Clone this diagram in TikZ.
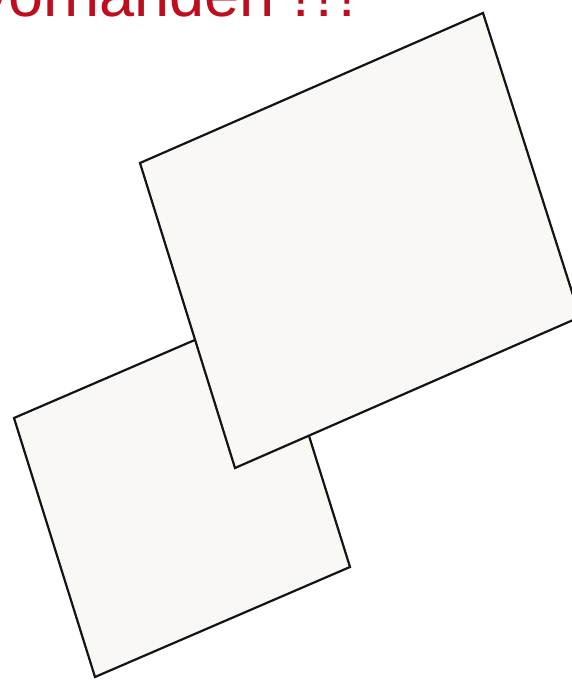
\documentclass[tikz,border=0pt]{standalone}
\usepackage{fontspec}
\setmainfont{Liberation Sans}
\definecolor{titlered}{RGB}{188,14,30}
\definecolor{sheetfill}{RGB}{250,248,245}
\tikzset{
  sheet/.style={draw=black!92, line width=2.2pt, fill=sheetfill, line join=miter},
  titletext/.style={text=titlered, inner sep=0pt, anchor=base west, font=\fontsize{63}{63}\selectfont}
}
\begin{document}
\begin{tikzpicture}[x=1pt,y=1pt]
\useasboundingbox (0,0) rectangle (572,680);
\clip (0,0) rectangle (572,680);
\fill[white] (0,0) rectangle (572,680);
\node[titletext] (title) at (-23,663) {vorhanden !\kern5.5pt!\kern5.5pt!};
% lower sheet
\coordinate (s1) at (14,262);
\coordinate (s2) at (269,372);
\coordinate (s3) at (350,113);
\coordinate (s4) at (95,3);
\draw[sheet] (s1) -- (s2) -- (s3) -- (s4) -- cycle;
% upper sheet
\coordinate (b1) at (140,517);
\coordinate (b2) at (483,667);
\coordinate (b3) at (580,363);
\coordinate (b4) at (235,212);
\draw[sheet] (b1) -- (b2) -- (b3) -- (b4) -- cycle;
\end{tikzpicture}
\end{document}
